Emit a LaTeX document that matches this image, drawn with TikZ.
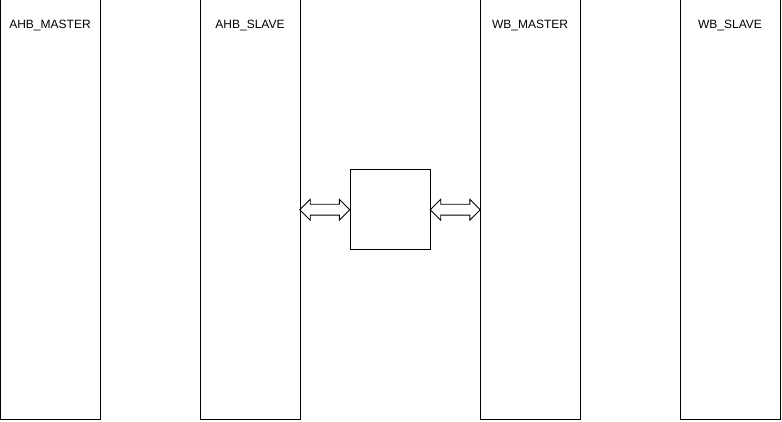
\documentclass[tikz,border=0pt]{standalone}
\usepackage{fontspec}
\setmainfont{Liberation Sans}
\usetikzlibrary{shapes.arrows,calc}
\begin{document}
\begin{tikzpicture}[x=1pt, y=-1pt,
  block/.style={draw, line width=1pt, minimum width=100pt, minimum height=419pt, inner sep=0pt, outer sep=0pt},
  title/.style={font=\fontsize{12}{14}\selectfont, anchor=base},
  link/.style={draw, double arrow, double arrow head extend=5pt, double arrow tip angle=90, minimum height=50pt, minimum width=20pt, inner sep=5pt, outer sep=0pt, line width=0.8pt}]
  \useasboundingbox (0,0) rectangle (782,422);

  % Bus blocks
  \node[block] (ahbm) at (50, 209.5) {};
  \node[block] (ahbs) at (250, 209.5) {};
  \node[block] (wbm) at (530, 209.5) {};
  \node[block] (wbs) at (730, 209.5) {};
  \node[title] at (50, 28.5) {AHB\_MASTER};
  \node[title] at (250, 28.5) {AHB\_SLAVE};
  \node[title] at (530, 28.5) {WB\_MASTER};
  \node[title] at (730, 28.5) {WB\_SLAVE};

  % Bridge in the middle
  \node[draw, line width=1pt, minimum size=80pt, inner sep=0pt] (bridge) at (390, 210) {};
  \node[link] (la) at ($(ahbs.east)!0.5!(bridge.west)$) {};
  \node[link] (lb) at ($(bridge.east)!0.5!(wbm.west)$) {};
\end{tikzpicture}
\end{document}
